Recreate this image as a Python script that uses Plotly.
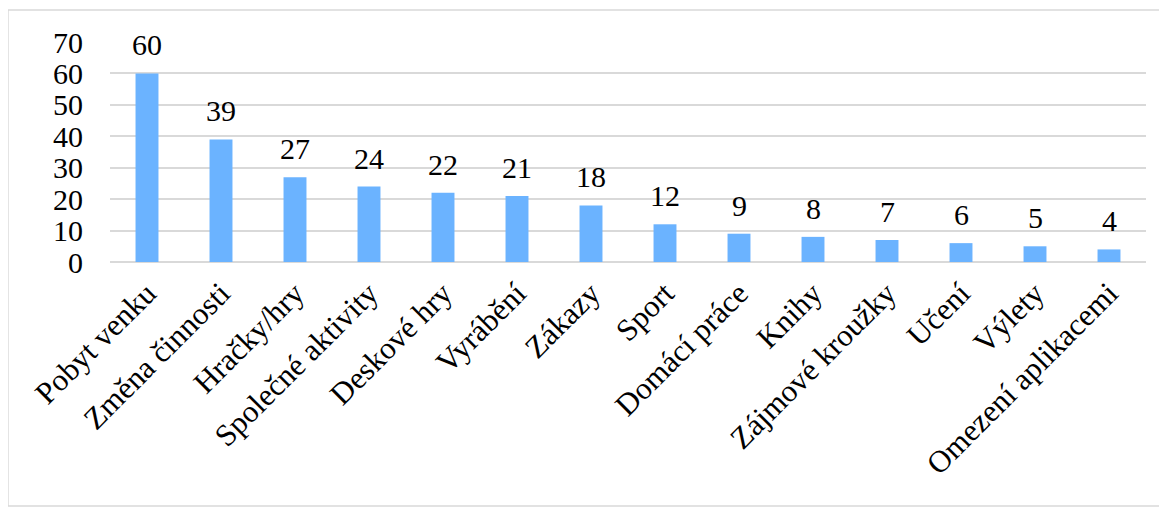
import plotly.graph_objects as go

categories = ["Pobyt venku", "Změna činnosti", "Hračky/hry", "Společné aktivity",
              "Deskové hry", "Vyrábění", "Zákazy", "Sport", "Domácí práce", "Knihy",
              "Zájmové kroužky", "Učení", "Výlety", "Omezení aplikacemi"]
values = [60, 39, 27, 24, 22, 21, 18, 12, 9, 8, 7, 6, 5, 4]
y_ticks = [0, 10, 20, 30, 40, 50, 60, 70]

FONT = "Times New Roman, Liberation Serif, serif"

fig = go.Figure(go.Bar(
    x=categories, y=values, marker=dict(color="#6BB3FF", line=dict(width=0)),
    width=0.31,
))

for c, v in zip(categories, values):
    fig.add_annotation(x=c, y=v, text=str(v), showarrow=False, yanchor="bottom",
                       yshift=10, font=dict(family=FONT, size=30, color="black"))

fig.add_shape(type="rect", xref="paper", yref="paper", x0=-0.0985, x1=1.0135,
              y0=-1.109, y1=1.145, line=dict(color="#D9D9D9", width=1.5), layer="below")

fig.update_layout(
    width=1159, height=500,
    margin=dict(l=102, r=21, t=34, b=246),
    plot_bgcolor="white", paper_bgcolor="white",
    showlegend=False,
    font=dict(family=FONT, color="black"),
    xaxis=dict(tickangle=-45, tickfont=dict(family=FONT, size=31, color="black"),
               showline=False, ticks="", showgrid=False, ticklabelstandoff=6),
    yaxis=dict(range=[0, 70], tickvals=y_ticks, showgrid=True, gridcolor="#D9D9D9",
               gridwidth=1.5, zeroline=True, zerolinecolor="#D9D9D9", zerolinewidth=1.5,
               tickfont=dict(family=FONT, size=30, color="black"), ticks="",
               ticklabelstandoff=26),
)

fig.write_html("out.html")
